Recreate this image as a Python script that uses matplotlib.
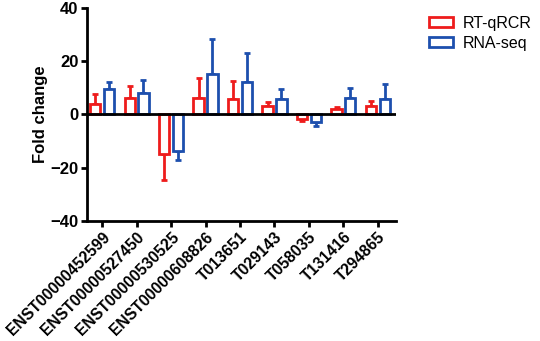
import numpy as np
import matplotlib
matplotlib.use('Agg')
import matplotlib.pyplot as plt

plt.rcParams['font.family'] = ['Liberation Sans', 'DejaVu Sans']

# данные
genes = ['ENST00000452599', 'ENST00000527450', 'ENST00000530525', 'ENST00000608826',
         'T013651', 'T029143', 'T058035', 'T131416', 'T294865']
qpcr = [3.9, 6.3, -14.8, 6.2, 5.6, 3.1, -1.9, 2.1, 3.1]
qpcr_err = [3.9, 4.3, 10.0, 7.5, 7.1, 1.5, 0.5, 0.6, 1.9]
rnaseq = [9.6, 8.0, -13.8, 15.2, 12.1, 5.6, -2.9, 6.1, 5.8]
rnaseq_err = [2.7, 4.9, 3.3, 13.2, 10.8, 3.8, 1.5, 3.8, 5.6]

red = '#ee1c1c'
blue = '#1d4fae'

fig = plt.figure(figsize=(5.4, 3.41), dpi=100)
ax = fig.add_axes([0.161, 0.352, 0.572, 0.625])

x = np.arange(len(genes))
w = 0.3
off = 0.2

def draw(pos, vals, errs, color, label):
    vals = np.array(vals)
    errs = np.array(errs)
    ax.bar(pos, vals, width=w, facecolor='white', edgecolor=color, linewidth=2, label=label, zorder=3)
    # ошибки только в сторону столбика
    lower = np.where(vals < 0, errs, 0)
    upper = np.where(vals >= 0, errs, 0)
    ax.errorbar(pos, vals, yerr=[lower, upper], fmt='none', ecolor=color,
                elinewidth=2, capsize=2, capthick=2, zorder=2)

draw(x - off, qpcr, qpcr_err, red, 'RT-qRCR')
draw(x + off, rnaseq, rnaseq_err, blue, 'RNA-seq')

ax.axhline(0, color='black', linewidth=2, zorder=4)
ax.set_ylim(-40, 40)
ax.set_xlim(-0.44, len(genes) - 1 + 0.52)
ax.set_yticks([-40, -20, 0, 20, 40])
ax.set_xticks(x)
ax.set_xticklabels(genes, rotation=45, ha='right', rotation_mode='anchor', fontweight='bold', fontsize=11.3)
for t in ax.get_yticklabels():
    t.set_fontweight('bold')
    t.set_fontsize(12)
ax.set_ylabel('Fold change', fontweight='bold', fontsize=12, labelpad=2)

for s in ['top', 'right']:
    ax.spines[s].set_visible(False)
for s in ['left', 'bottom']:
    ax.spines[s].set_linewidth(2)
ax.tick_params(width=2, length=4, direction='out', pad=2)

ax.legend(loc='upper left', bbox_to_anchor=(1.06, 1.03), frameon=False, fontsize=11.5,
          handlelength=1.5, handleheight=0.6, handletextpad=0.6, labelspacing=0.3)

fig.savefig('out.png', dpi=100)
